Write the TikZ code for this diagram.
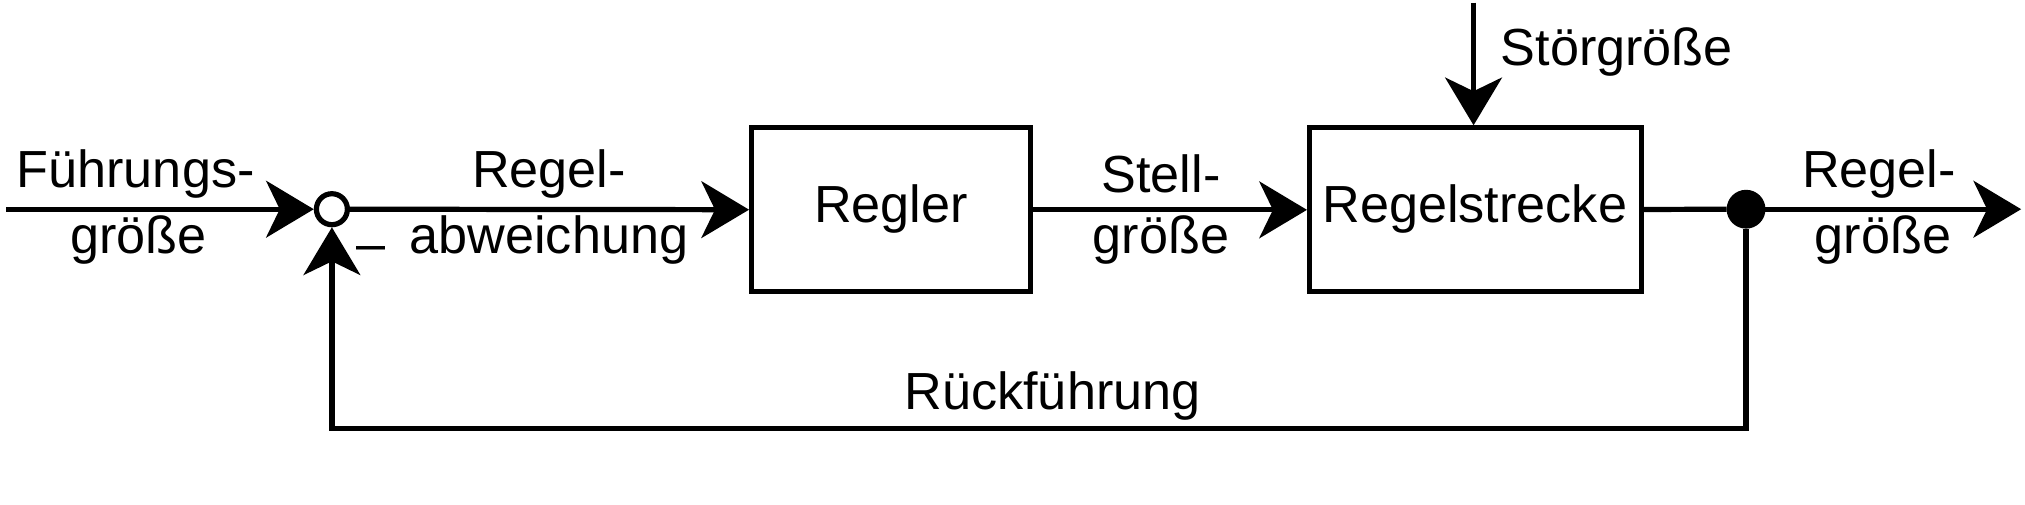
\documentclass[tikz,border=0pt]{standalone}
\usepackage{fontspec}
\setmainfont{Liberation Sans}
\usetikzlibrary{arrows.meta}
\begin{document}
\begin{tikzpicture}[x=0.02cm,y=-0.02cm,line width=2.3pt,
  arr/.style={-{Stealth[length=21pt,width=25pt,inset=6pt]}},
  blk/.style={draw,minimum width=220*0.02cm-2.3pt,minimum height=131*0.02cm-2.3pt,inner sep=0pt},
  lbl/.style={font=\fontsize{23}{27}\selectfont,inner sep=0pt}]
\useasboundingbox (0,0) rectangle (1568,391);
\coordinate (in) at (5,162);
\node[draw,circle,minimum size=24*0.02cm,inner sep=0pt,line width=2.3pt] (sum) at (257,162) {};
\node[blk] (reg) at (690,162.5) {};
\node[lbl] at (690,162) {Regler};
\node[blk,minimum width=261*0.02cm-2.3pt] (str) at (1142.5,162.5) {};
\node[lbl] at (1142,162) {Regelstrecke};
\node[draw,fill,circle,minimum size=26*0.02cm,inner sep=0pt] (dot) at (1352,162) {};
\coordinate (out) at (1565,162);
\coordinate (dist) at (1141,2);
\coordinate (c1) at (1352,332);
\coordinate (c2) at (257,332);
\draw[arr] (in) -- (sum);
\draw[arr] (sum) -- (reg);
\draw[arr] (reg) -- (str);
\draw (str) -- (dot);
\draw[arr] (dot) -- (out);
\draw[arr] (dist) -- (dist |- str.north);
\draw[arr] (dot) -- (c1) -- (c2) -- (sum);
\node[lbl] at (105,135) {Führungs-};
\node[lbl] at (107,186) {größe};
\node[lbl] at (425,135) {Regel-};
\node[lbl] at (425,186) {abweichung};
\node[lbl] at (899,135) {Stell-};
\node[lbl] at (899,186) {größe};
\node[lbl] at (1455,135) {Regel-};
\node[lbl] at (1458,186) {größe};
\node[lbl,anchor=west] at (1160,40) {Störgröße};
\node[lbl] at (815,307) {Rückführung};
\node[lbl] at (287,197) {–};
\end{tikzpicture}
\end{document}
